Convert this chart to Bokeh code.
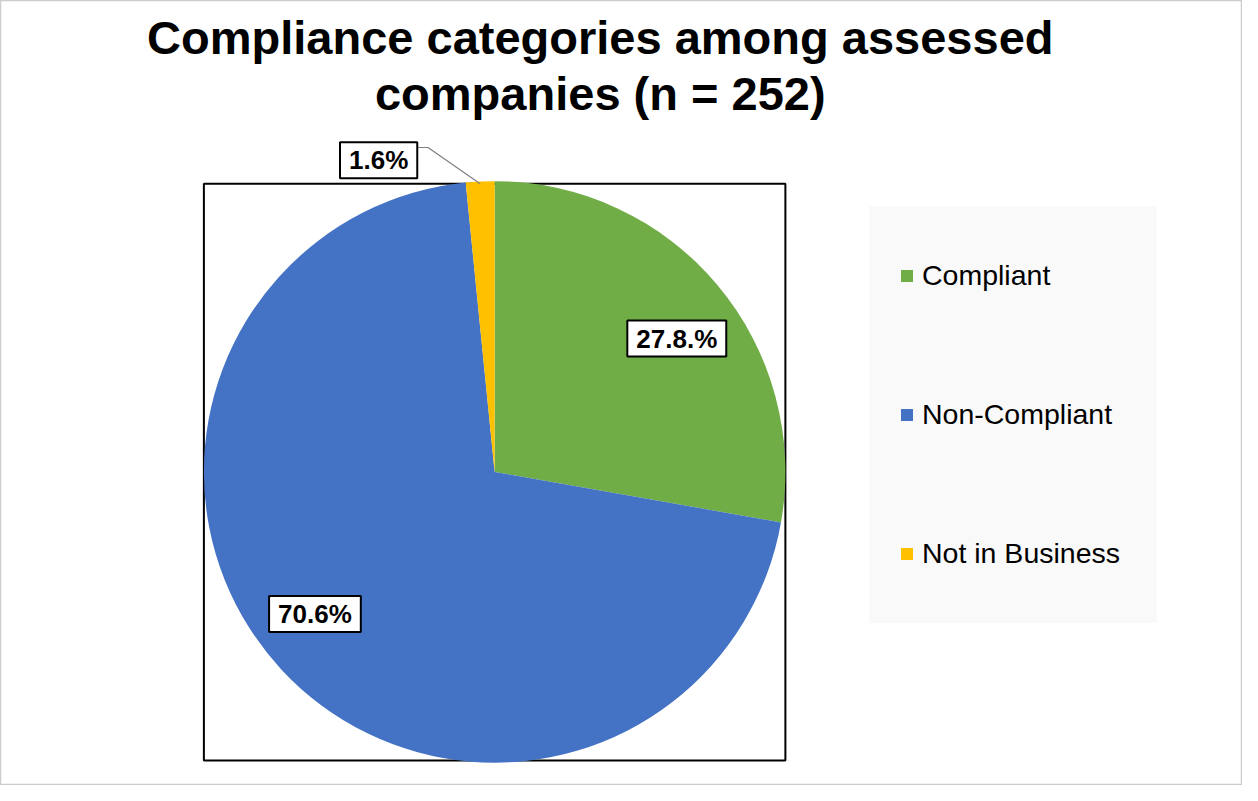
import math
from bokeh.plotting import figure
from bokeh.models import Range1d, Label, Legend, LegendItem, ColumnDataSource
from bokeh.embed import file_html
from bokeh.resources import INLINE

# ---- data ----
categories = ["Compliant", "Non-Compliant", "Not in Business"]
counts = [70, 178, 4]
pct_labels = ["27.8.%", "70.6%", "1.6%"]
colors = ["#70AD47", "#4472C4", "#FFC000"]
title_lines = ["Compliance categories among assessed", "companies (n = 252)"]

# ---- layout (reference pixel coords, 1258 x 801) ----
W, H = 1242, 785
REF_W, REF_H = 1258, 801
FONT = "Liberation Sans"
PIE_CX, PIE_CY, PIE_R = 500.5, 481.0, 294.5
BOX = (206, 795, 187, 775.5)  # left, right, top, bottom
LABEL_POS = [(685, 345), (318.5, 626), (383, 163)]
LEG_BG = (880, 1171, 210, 635)


def Y(yr):
    return REF_H - yr


p = figure(width=W, height=H, x_range=Range1d(0, REF_W), y_range=Range1d(0, REF_H),
           output_backend="svg", toolbar_location=None, min_border=0)
p.axis.visible = False
p.grid.visible = False
p.outline_line_color = "#cccccc"
p.outline_line_width = 1.5
p.background_fill_color = "white"
p.border_fill_color = "white"

# plot area box
p.quad(left=[BOX[0]], right=[BOX[1]], top=[Y(BOX[2])], bottom=[Y(BOX[3])],
       fill_color=None, line_color="black", line_width=2)

# pie
total = sum(counts)
starts, ends, mids = [], [], []
cum = 0
for c in counts:
    a0 = math.pi / 2 - 2 * math.pi * cum / total
    cum += c
    a1 = math.pi / 2 - 2 * math.pi * cum / total
    starts.append(a0)
    ends.append(a1)
    mids.append((a0 + a1) / 2)

src = ColumnDataSource(dict(category=categories, count=counts, color=colors,
                            start=starts, end=ends))
wr = p.wedge(x=PIE_CX, y=Y(PIE_CY), radius=PIE_R, start_angle="start", end_angle="end",
             direction="clock", fill_color="color", line_color=None, source=src)

# leader line for small slice
lx, ly = LABEL_POS[2]
ex = PIE_CX + PIE_R * math.cos(mids[2])
ey = PIE_CY - PIE_R * math.sin(mids[2])
p.line(x=[lx + 39, lx + 50, ex], y=[Y(ly - 13), Y(ly - 13), Y(ey)],
       line_color="#808080", line_width=1.2)

# data labels with soft shadow
for (x, y), t in zip(LABEL_POS, pct_labels):
    for off, a in [(5, 0.10), (4, 0.14), (3, 0.18)]:
        p.add_layout(Label(x=x, y=Y(y), x_offset=off, y_offset=-off, text=t,
                           text_font=FONT, text_font_style="bold", text_font_size="26px",
                           text_align="center", text_baseline="middle", text_alpha=0,
                           background_fill_color="#000000", background_fill_alpha=a,
                           padding=(9, 3)))
    p.add_layout(Label(x=x, y=Y(y), text=t, text_font=FONT, text_font_style="bold",
                       text_font_size="26px", text_align="center", text_baseline="middle",
                       text_color="black", background_fill_color="white",
                       border_line_color="black", border_line_width=2,
                       padding=(9, 3)))

# title
for i, line in enumerate(title_lines):
    p.add_layout(Label(x=607.5, y=Y(38 + 57 * i), text=line, text_font=FONT,
                       text_font_style="bold", text_font_size="47px",
                       text_align="center", text_baseline="alphabetic",
                       text_color="black"))

# legend background
p.quad(left=[LEG_BG[0]], right=[LEG_BG[1]], top=[Y(LEG_BG[2])], bottom=[Y(LEG_BG[3])],
       fill_color="#f9f9f9", line_color=None)

legend = Legend(items=[LegendItem(label=categories[i], renderers=[wr], index=i)
                       for i in range(len(categories))],
                location=(899, 215))
legend.glyph_width = 15
legend.glyph_height = 15
legend.label_standoff = 8
legend.label_text_font = FONT
legend.label_text_font_size = "28.5px"
legend.label_text_color = "black"
legend.spacing = 106
legend.padding = 0
legend.margin = 0
legend.background_fill_alpha = 0
legend.border_line_color = None
p.add_layout(legend)

open("out.html", "w").write(file_html(p, INLINE))
